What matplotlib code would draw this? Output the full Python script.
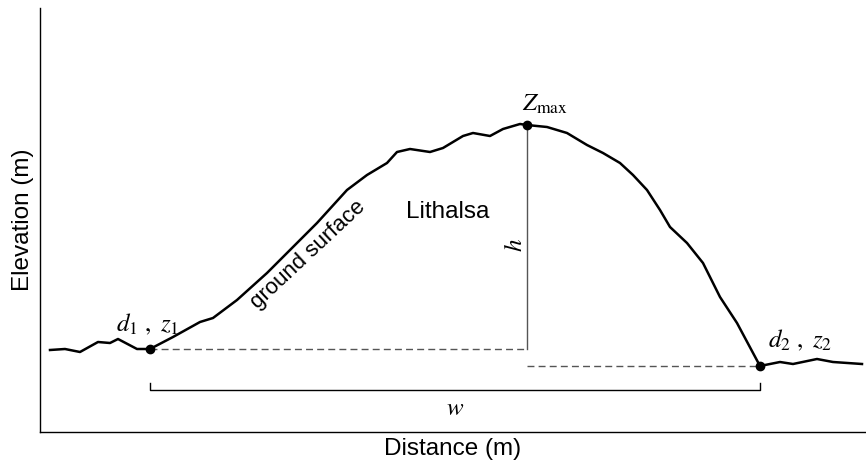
import matplotlib
matplotlib.use("Agg")
import matplotlib.pyplot as plt

plt.rcParams['mathtext.fontset'] = 'stix'
plt.rcParams['font.family'] = ['Liberation Sans', 'DejaVu Sans']

# Profile (distance, elevation) in arbitrary schematic units
distance = [10, 25, 40, 58, 70, 78, 97, 110, 133, 160, 173, 197, 227, 257, 277, 307, 327,
            347, 357, 370, 390, 403, 423, 433, 450, 463, 480, 487,
            507, 527, 547, 563, 580, 593, 607, 620, 630, 647, 663, 680, 697, 720,
            740, 753, 777, 793, 822]
elevation = [82, 83, 80, 90, 89, 93, 83, 83, 95, 110, 114, 132, 159, 189, 209, 242, 257,
             269, 280, 283, 280, 284, 296, 299, 296, 303, 308, 307,
             305, 299, 287, 279, 269, 257, 242, 222, 205, 189, 169, 135, 109, 66,
             70, 68, 73, 70, 68]

d1, z1 = 110, 83
dmax, zmax = 487, 307
d2, z2 = 720, 66

fig = plt.figure(figsize=(8.66, 4.72), dpi=100)
ax = fig.add_axes([40/866, 40/472, 826/866, 424/472])
ax.set_xlim(0, 826)
ax.set_ylim(0, 424)
for s in ['top', 'right']:
    ax.spines[s].set_visible(False)
for s in ['left', 'bottom']:
    ax.spines[s].set_linewidth(1.0)
    ax.spines[s].set_color('black')
ax.set_xticks([])
ax.set_yticks([])

# reference lines
ax.plot([d1, dmax], [z1, z1], color='#555555', lw=1.0, ls=(0, (5, 3)))
ax.plot([dmax, d2], [z2, z2], color='#555555', lw=1.0, ls=(0, (5, 3)))
ax.plot([dmax, dmax], [z1, zmax], color='#555555', lw=1.0)

# profile
ax.plot(distance, elevation, color='black', lw=1.8, solid_joinstyle='round')
ax.plot([d1, dmax, d2], [z1, zmax, z2], 'o', color='black', ms=6)

# width bracket
ax.plot([d1, d1, d2, d2], [49, 42, 42, 49], color='black', lw=1.0)

ax.text((d1 + d2) / 2, 24, r'$w$', ha='center', va='center', fontsize=18)
ax.text(d1 - 3, 108, r'$d_1\ ,\ z_1$', ha='center', va='center', fontsize=18)
ax.text(d2 + 40, 92, r'$d_2\ ,\ z_2$', ha='center', va='center', fontsize=18)
ax.text(dmax + 18, 328, r'$Z_{\mathrm{max}}$', ha='center', va='center', fontsize=18)
ax.text(dmax - 12, 187, r'$h$', ha='center', va='center', fontsize=18, rotation=90)
ax.text(408, 220, 'Lithalsa', ha='center', va='center', fontsize=17.5)
ax.text(268, 177, 'ground surface', ha='center', va='center', fontsize=16, rotation=43)

ax.set_xlabel('Distance (m)', fontsize=17.5, labelpad=4)
ax.set_ylabel('Elevation (m)', fontsize=17.5, labelpad=4)

fig.savefig('out.png', dpi=100)
